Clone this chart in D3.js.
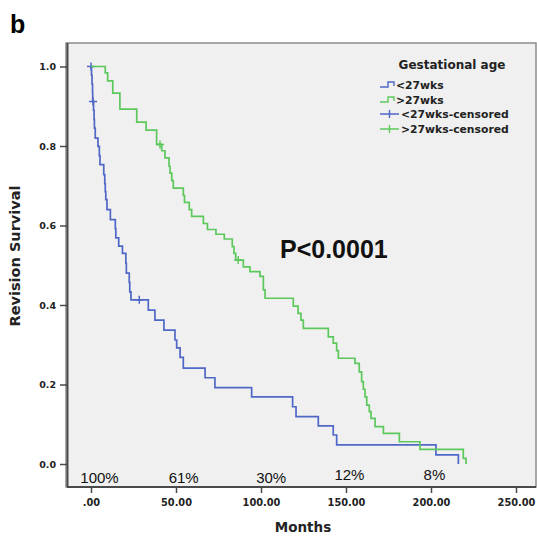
<!DOCTYPE html>
<html>
<head>
<meta charset="utf-8">
<script src="https://cdn.jsdelivr.net/npm/d3@7"></script>
<style>
  body { margin: 0; background: #fff; }
  svg { display: block; }
</style>
</head>
<body>
<div id="chart"></div>
<script>
// Kaplan-Meier: revision survival by gestational age
const groups = ["<27wks", ">27wks"];

const shortTime = [0, 0.3, 0.6, 0.9, 1.0, 1.5, 1.8, 2.0, 2.5, 4.1, 4.9, 5.3, 7.5, 8.1, 8.4, 8.7, 9.4, 11.4,
  14.3, 14.6, 16.3, 18.5, 20.5, 20.8, 22.5, 22.8, 23.5, 33.7, 37.6, 42.9, 49.4, 50.4, 52.4, 54.3,
  67.1, 72.9, 94.5, 118.6, 120.6, 133.7, 142.5, 144.5, 202.9, 216.1];
const shortSurv = [1.0, 0.978, 0.956, 0.934, 0.912, 0.890, 0.867, 0.845, 0.820, 0.799, 0.776, 0.753, 0.728, 0.705, 0.685, 0.665, 0.640, 0.615,
  0.592, 0.569, 0.548, 0.530, 0.505, 0.480, 0.457, 0.433, 0.413, 0.387, 0.362, 0.337, 0.312, 0.292, 0.268, 0.241,
  0.217, 0.192, 0.169, 0.144, 0.119, 0.096, 0.073, 0.048, 0.023, 0.0];
const shortCensTime = [0, 1.2, 28.4];
const shortCensSurv = [1.0, 0.912, 0.413];

const longTime = [0, 8.4, 9.8, 12.8, 17.0, 26.9, 32.4, 38.6, 41.6, 43.5, 45.9, 46.5, 47.5, 48.4, 54.3, 55.0,
  57.8, 59.2, 66.1, 68.5, 73.5, 78.4, 83.1, 84.1, 85.1, 89.6, 93.5, 99.4, 101.4, 102.4,
  119.0, 121.8, 123.5, 124.9, 139.6, 142.5, 144.5, 145.5, 155.3, 157.8, 159.2, 160.2, 161.2, 162.2,
  163.7, 164.7, 167.1, 172.0, 181.4, 193.5, 219.0, 220.6];
const longSurv = [1.0, 0.984, 0.964, 0.933, 0.893, 0.860, 0.840, 0.804, 0.788, 0.770, 0.749, 0.732, 0.713, 0.694, 0.676, 0.658,
  0.640, 0.623, 0.605, 0.590, 0.578, 0.566, 0.547, 0.530, 0.513, 0.496, 0.484, 0.472, 0.438, 0.417,
  0.397, 0.379, 0.362, 0.341, 0.320, 0.304, 0.285, 0.266, 0.253, 0.232, 0.207, 0.188, 0.169, 0.148,
  0.132, 0.115, 0.094, 0.077, 0.056, 0.037, 0.014, 0.0];
const longCensTime = [40.6, 86.6];
const longCensSurv = [0.804, 0.513];

// percentages written along the bottom of the plot
const riskLabels = ["100%", "61%", "30%", "12%", "8%"];
const riskMonths = [5, 54.5, 106, 152, 202];
const riskLevel = [-0.047, -0.047, -0.048, -0.039, -0.039];

const yTicks = [0, 0.2, 0.4, 0.6, 0.8, 1.0];
const xTicks = [0, 50, 100, 150, 200, 250];

const W = 537, H = 536;
const frame = { left: 66, top: 43, right: 536, bottom: 487 };
const blue = "#4f67c6", green = "#5cc85c";

const svg = d3.select("#chart").append("svg")
  .attr("width", W).attr("height", H)
  .style("font-family", "'DejaVu Sans', Verdana, sans-serif");

const x = d3.scaleLinear().domain([0, 250]).range([91, 516]);
const y = d3.scaleLinear().domain([0, 1]).range([464, 66.5]);

// panel letter
svg.append("text").attr("x", 10).attr("y", 33)
  .style("font-family", "'Liberation Sans', Arial, sans-serif")
  .style("font-size", "25px").style("font-weight", "bold").text("b");

// plot background and frame
svg.append("rect")
  .attr("x", frame.left).attr("y", frame.top)
  .attr("width", frame.right - frame.left).attr("height", frame.bottom - frame.top)
  .attr("fill", "#f0f0f0").attr("stroke", "#8c8c8c").attr("stroke-width", 1.5);

// axis lines
svg.append("line").attr("x1", 67.5).attr("x2", 67.5).attr("y1", frame.top).attr("y2", frame.bottom)
  .attr("stroke", "#4a4a4a").attr("stroke-width", 2);
svg.append("line").attr("x1", 67).attr("x2", frame.right).attr("y1", frame.bottom).attr("y2", frame.bottom)
  .attr("stroke", "#4a4a4a").attr("stroke-width", 2);

const yAxis = svg.append("g").attr("transform", "translate(67,0)")
  .call(d3.axisLeft(y).tickValues(yTicks).tickFormat(d3.format(".1f")).tickSize(7).tickPadding(4));
yAxis.select(".domain").remove();
yAxis.selectAll("line").attr("stroke", "#4a4a4a").attr("stroke-width", 1.5);
yAxis.selectAll("text").style("font-size", "9.5px").style("font-weight", "bold")
  .style("font-family", "'DejaVu Sans', Verdana, sans-serif").attr("fill", "#222");

const xAxis = svg.append("g").attr("transform", `translate(0,${frame.bottom})`)
  .call(d3.axisBottom(x).tickValues(xTicks)
    .tickFormat(d => d === 0 ? ".00" : d.toFixed(2)).tickSize(6).tickPadding(6));
xAxis.select(".domain").remove();
xAxis.selectAll("line").attr("stroke", "#4a4a4a").attr("stroke-width", 1.5);
xAxis.selectAll("text").style("font-size", "9.8px").style("font-weight", "bold")
  .style("font-family", "'DejaVu Sans', Verdana, sans-serif").attr("fill", "#222");

// axis titles
svg.append("text").attr("x", 303).attr("y", 532).attr("text-anchor", "middle")
  .style("font-size", "13.5px").style("font-weight", "bold").attr("fill", "#222").text("Months");
svg.append("text").attr("transform", "translate(20,256) rotate(-90)").attr("text-anchor", "middle")
  .style("font-size", "14.5px").style("font-weight", "bold").attr("fill", "#222").text("Revision Survival");

// survival curves
const line = d3.line().x(d => x(d[0])).y(d => y(d[1])).curve(d3.curveStepAfter);
const series = [
  { name: groups[0], color: blue, t: shortTime, s: shortSurv, ct: shortCensTime, cs: shortCensSurv },
  { name: groups[1], color: green, t: longTime, s: longSurv, ct: longCensTime, cs: longCensSurv }
];

series.forEach(g => {
  svg.append("path")
    .datum(d3.zip(g.t, g.s))
    .attr("d", line)
    .attr("fill", "none").attr("stroke", g.color).attr("stroke-width", 1.7);
  // censored marks (+)
  d3.zip(g.ct, g.cs).forEach(([t, s]) => {
    svg.append("path")
      .attr("d", `M${x(t) - 4},${y(s)}H${x(t) + 4}M${x(t)},${y(s) - 4}V${y(s) + 4}`)
      .attr("stroke", g.color).attr("stroke-width", 1.5).attr("fill", "none");
  });
});

// P value
svg.append("text").attr("x", 280).attr("y", 258)
  .style("font-family", "'Liberation Sans', Arial, sans-serif")
  .style("font-size", "25px").style("font-weight", "bold").attr("fill", "#111").text("P<0.0001");

// percentages at bottom
riskLabels.forEach((lab, i) => {
  svg.append("text").attr("x", x(riskMonths[i])).attr("y", y(riskLevel[i]))
    .attr("text-anchor", "middle")
    .style("font-family", "'Liberation Sans', Arial, sans-serif")
    .style("font-size", "15px").attr("fill", "#111").text(lab);
});

// legend
const leg = svg.append("g");
leg.append("text").attr("x", 452).attr("y", 69).attr("text-anchor", "middle")
  .style("font-size", "12px").style("font-weight", "bold").attr("fill", "#222").text("Gestational age");
const legRows = [
  { label: groups[0], color: blue, kind: "step", yc: 85 },
  { label: groups[1], color: green, kind: "step", yc: 100 },
  { label: groups[0] + "-censored", color: blue, kind: "cens", yc: 114 },
  { label: groups[1] + "-censored", color: green, kind: "cens", yc: 129 }
];
legRows.forEach(r => {
  if (r.kind === "step") {
    leg.append("path").attr("d", `M380,${r.yc + 2}H388V${r.yc - 3}H394V${r.yc + 1}`)
      .attr("stroke", r.color).attr("stroke-width", 1.4).attr("fill", "none");
    leg.append("text").attr("x", 396).attr("y", r.yc + 4)
      .style("font-size", "10.8px").style("font-weight", "bold").attr("fill", "#222").text(r.label);
  } else {
    leg.append("path").attr("d", `M380,${r.yc}H399M389.5,${r.yc - 4}V${r.yc + 4}`)
      .attr("stroke", r.color).attr("stroke-width", 1.4).attr("fill", "none");
    leg.append("text").attr("x", 401).attr("y", r.yc + 4)
      .style("font-size", "10.8px").style("font-weight", "bold").attr("fill", "#222").text(r.label);
  }
});
</script>
</body>
</html>
